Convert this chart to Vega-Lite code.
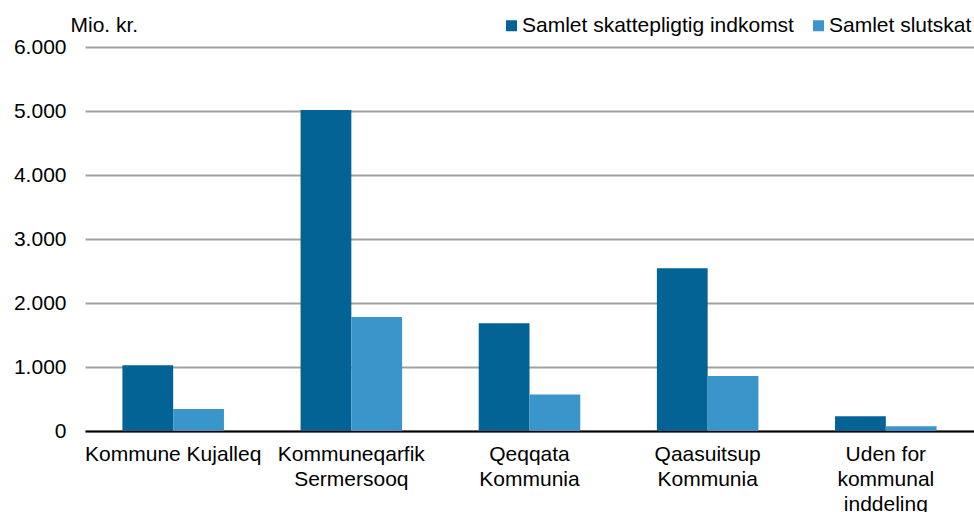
{
  "$schema": "https://vega.github.io/schema/vega-lite/v6.json",
  "autosize": "none",
  "width": 889,
  "height": 384,
  "padding": {"left": 85, "top": 47, "right": 0, "bottom": 81},
  "background": "white",
  "data": {
    "values": [
      {"kommune": "Kommune Kujalleq", "serie": "Samlet skattepligtig indkomst", "mio": 1027},
      {"kommune": "Kommune Kujalleq", "serie": "Samlet slutskat", "mio": 344},
      {"kommune": "Kommuneqarfik Sermersooq", "serie": "Samlet skattepligtig indkomst", "mio": 5015},
      {"kommune": "Kommuneqarfik Sermersooq", "serie": "Samlet slutskat", "mio": 1780},
      {"kommune": "Qeqqata Kommunia", "serie": "Samlet skattepligtig indkomst", "mio": 1685},
      {"kommune": "Qeqqata Kommunia", "serie": "Samlet slutskat", "mio": 570},
      {"kommune": "Qaasuitsup Kommunia", "serie": "Samlet skattepligtig indkomst", "mio": 2542},
      {"kommune": "Qaasuitsup Kommunia", "serie": "Samlet slutskat", "mio": 859},
      {"kommune": "Uden for kommunal inddeling", "serie": "Samlet skattepligtig indkomst", "mio": 230},
      {"kommune": "Uden for kommunal inddeling", "serie": "Samlet slutskat", "mio": 74}
    ]
  },
  "mark": {"type": "bar"},
  "encoding": {
    "x": {
      "field": "kommune",
      "type": "nominal",
      "sort": null,
      "scale": {"paddingInner": 0.43, "paddingOuter": 0.21},
      "axis": {
        "title": null,
        "labelAngle": 0,
        "ticks": false,
        "tickSize": 0,
        "labelPadding": 12,
        "labelFont": "Liberation Sans",
        "labelFontSize": 21,
        "labelColor": "#000000",
        "labelLimit": 400,
        "labelLineHeight": 25,
        "labelBaseline": "top",
        "domainColor": "#000000",
        "domainWidth": 2,
        "labelExpr": "datum.label == 'Uden for kommunal inddeling' ? ['Uden for', 'kommunal', 'inddeling'] : datum.label == 'Kommune Kujalleq' ? datum.label : split(datum.label, ' ')"
      }
    },
    "xOffset": {
      "field": "serie",
      "type": "nominal",
      "sort": ["Samlet skattepligtig indkomst", "Samlet slutskat"]
    },
    "y": {
      "field": "mio",
      "type": "quantitative",
      "scale": {"domain": [0, 6000], "nice": false},
      "axis": {
        "values": [0, 1000, 2000, 3000, 4000, 5000, 6000],
        "title": "Mio. kr.",
        "titleAngle": 0,
        "titleAlign": "left",
        "titleBaseline": "alphabetic",
        "titleX": -15,
        "titleY": -16,
        "titleFont": "Liberation Sans",
        "titleFontSize": 21,
        "titleFontWeight": "normal",
        "titleColor": "#000000",
        "labelExpr": "replace(format(datum.value, ',d'), ',', '.')",
        "labelFont": "Liberation Sans",
        "labelFontSize": 21,
        "labelColor": "#000000",
        "labelPadding": 19,
        "ticks": false,
        "domain": false,
        "grid": true,
        "gridColor": "#a0a0a0",
        "gridWidth": 2
      }
    },
    "color": {
      "field": "serie",
      "type": "nominal",
      "scale": {
        "domain": ["Samlet skattepligtig indkomst", "Samlet slutskat"],
        "range": ["#036394", "#3a96ca"]
      },
      "legend": {
        "title": null,
        "orient": "none",
        "direction": "horizontal",
        "legendX": 416,
        "legendY": -32,
        "symbolType": "square",
        "symbolSize": 121,
        "symbolStrokeWidth": 0,
        "labelFont": "Liberation Sans",
        "labelFontSize": 21,
        "labelColor": "#000000",
        "labelLimit": 500,
        "labelOffset": 0,
        "columnPadding": 14
      }
    }
  },
  "config": {
    "view": {"stroke": null}
  }
}
